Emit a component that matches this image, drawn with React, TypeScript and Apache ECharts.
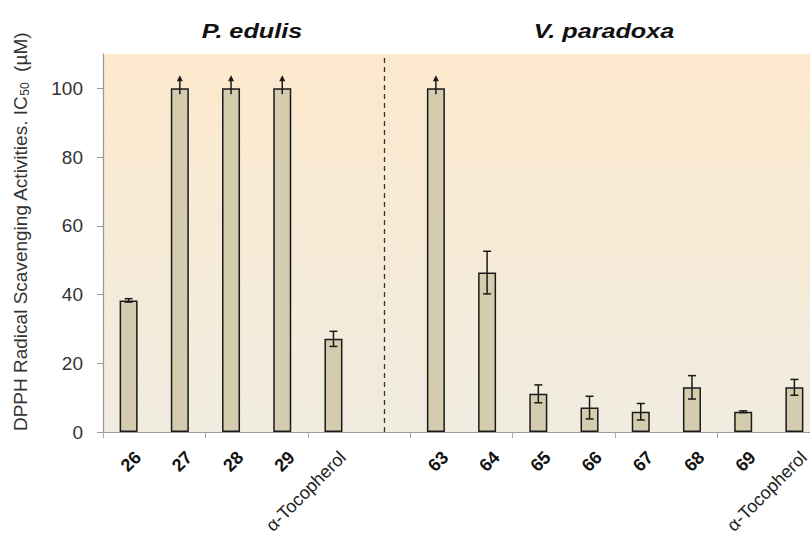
import React, { useEffect, useRef } from "react";
import * as echarts from "echarts";

// ---- data ----
const categories = [
  "26", "27", "28", "29", "α-Tocopherol", "",
  "63", "64", "65", "66", "67", "68", "69", "α-Tocopherol",
];
// IC50 (µM); null = empty separator slot
const ic50Values = [38.3, 100, 100, 100, 27.1, null, 100, 46.4, 11.1, 7.1, 5.9, 13.0, 5.9, 13.0];
// standard deviation (± error bar)
const errorValues = [0.5, 0, 0, 0, 2.2, null, 0, 6.2, 2.6, 3.3, 2.4, 3.4, 0.25, 2.3];
// 1 = value exceeds 100 µM (drawn with an upward arrow)
const exceedsMax = [0, 1, 1, 1, 0, 0, 1, 0, 0, 0, 0, 0, 0, 0];
const yTickValues = [0, 20, 40, 60, 80, 100];
const separatorIndex = 5;
const groupTitles = ["P. edulis", "V. paradoxa"];
const referenceName = "α-Tocopherol";

const FONT = '"Liberation Sans", Arial, Helvetica, sans-serif';

export default function App() {
  const ref = useRef<HTMLDivElement>(null);

  useEffect(() => {
    if (!ref.current) return;
    const chart = echarts.init(ref.current, undefined, { renderer: "svg" });

    const barData = ic50Values.map((v) => (v == null ? "-" : v));
    const errData = ic50Values
      .map((v, i) => (v == null ? null : [i, v, errorValues[i] ?? 0, exceedsMax[i]]))
      .filter((d) => d != null);

    const titleGraphics = [
      {
        type: "text",
        x: 252,
        y: 31,
        scaleX: 1.2,
        style: {
          text: groupTitles[0],
          fontFamily: FONT,
          fontSize: 21,
          fontWeight: "bold",
          fontStyle: "italic",
          fill: "#111",
          align: "center",
          verticalAlign: "middle",
        },
      },
      {
        type: "text",
        x: 604,
        y: 31,
        scaleX: 1.2,
        style: {
          text: groupTitles[1],
          fontFamily: FONT,
          fontSize: 21,
          fontWeight: "bold",
          fontStyle: "italic",
          fill: "#111",
          align: "center",
          verticalAlign: "middle",
        },
      },
    ];

    const option: any = {
      animation: false,
      textStyle: { fontFamily: FONT },
      grid: {
        left: 103,
        right: 10,
        top: 54,
        bottom: 113,
        show: true,
        borderWidth: 0,
        backgroundColor: new echarts.graphic.LinearGradient(0, 0, 0, 1, [
          { offset: 0, color: "#FDE9CD" },
          { offset: 1, color: "#F0ECE0" },
        ]),
      },
      graphic: titleGraphics,
      xAxis: {
        type: "category",
        data: categories,
        splitLine: { show: false },
        axisLine: { show: true, lineStyle: { color: "#999", width: 1.2 } },
        axisTick: { show: true, length: 6, lineStyle: { color: "#aaa" } },
        axisLabel: { show: false },
      },
      yAxis: {
        type: "value",
        min: 0,
        max: 110,
        interval: 20,
        name: "DPPH Radical Scavenging Activities. IC{sub|50}  (µM)",
        nameLocation: "middle",
        nameGap: 72,
        nameTextStyle: {
          fontFamily: FONT,
          fontSize: 19,
          color: "#333",
          lineHeight: 22,
          padding: [0, 0, 0, 22],
          rich: {
            sub: { fontFamily: FONT, fontSize: 12, color: "#333", verticalAlign: "bottom", lineHeight: 12 },
          },
        },
        axisLine: { show: true, lineStyle: { color: "#999", width: 1.2 } },
        axisTick: { show: true, length: 6, customValues: yTickValues, lineStyle: { color: "#999" } },
        axisLabel: {
          customValues: yTickValues,
          margin: 20,
          fontFamily: FONT,
          fontSize: 19,
          color: "#333",
        },
        splitLine: { show: false },
      },
      series: [
        {
          type: "bar",
          data: barData,
          barWidth: 18,
          silent: true,
          itemStyle: { color: "#D5CCAF", borderColor: "#1a1a1a", borderWidth: 1.5 },
          markLine: {
            silent: true,
            symbol: ["none", "none"],
            label: { show: false },
            lineStyle: { type: [5, 4], color: "#333", width: 1.3 },
            data: [{ xAxis: separatorIndex }],
          },
        },
        {
          type: "custom",
          silent: true,
          data: errData,
          encode: { x: 0, y: 1 },
          z: 5,
          renderItem: (params: any, api: any) => {
            const idx = api.value(0);
            const v = api.value(1);
            const e = api.value(2);
            const arrow = api.value(3);
            const top = api.coord([idx, v]);
            const x = top[0];
            const stroke = { stroke: "#1a1a1a", lineWidth: 1.5 };
            const children: any[] = [];
            if (arrow) {
              children.push({
                type: "line",
                shape: { x1: x, y1: top[1] + 6, x2: x, y2: top[1] - 8 },
                style: stroke,
              });
              children.push({
                type: "polygon",
                shape: {
                  points: [
                    [x, top[1] - 13],
                    [x - 3, top[1] - 7],
                    [x + 3, top[1] - 7],
                  ],
                },
                style: { fill: "#1a1a1a" },
              });
            } else if (e > 0) {
              const hi = api.coord([idx, v + e])[1];
              const lo = api.coord([idx, v - e])[1];
              const cap = 4;
              children.push({ type: "line", shape: { x1: x, y1: hi, x2: x, y2: lo }, style: stroke });
              children.push({ type: "line", shape: { x1: x - cap, y1: hi, x2: x + cap, y2: hi }, style: stroke });
              children.push({ type: "line", shape: { x1: x - cap, y1: lo, x2: x + cap, y2: lo }, style: stroke });
            }
            return { type: "group", children };
          },
        },
      ],
    };

    chart.setOption(option);

    // rotated category labels, placed through the chart's own axes
    const baseY = chart.convertToPixel({ yAxisIndex: 0 }, 0) as number;
    const labelGraphics = categories
      .map((name, i) => {
        if (!name) return null;
        const cx = chart.convertToPixel({ xAxisIndex: 0 }, i) as number;
        const isRef = name === referenceName;
        return {
          type: "group",
          x: cx + 3,
          y: baseY + 16,
          rotation: Math.PI / 4,
          silent: true,
          children: [
            {
              type: "text",
              x: 0,
              y: 0,
              style: {
                text: name,
                fontFamily: FONT,
                fontSize: 18,
                fontWeight: isRef ? "normal" : "bold",
                fill: isRef ? "#222" : "#111",
                align: "right",
                verticalAlign: "top",
              },
            },
          ],
        };
      })
      .filter((g) => g != null);

    chart.setOption({ graphic: [...titleGraphics, ...labelGraphics] });

    return () => chart.dispose();
  }, []);

  return (
    <div
      ref={ref}
      style={{ position: "fixed", left: 0, top: 0, width: 830, height: 545, background: "#fff" }}
    />
  );
}
